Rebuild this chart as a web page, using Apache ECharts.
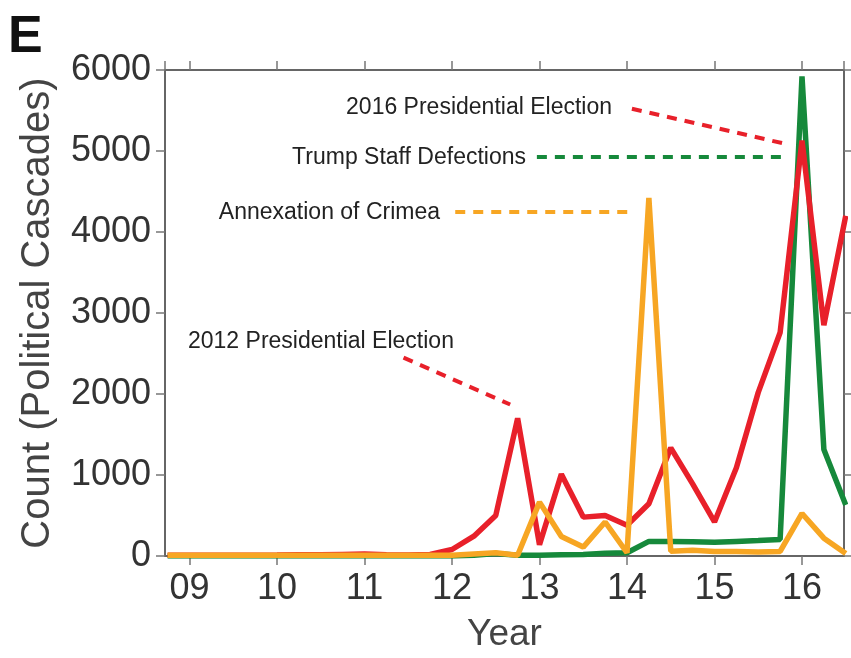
<!DOCTYPE html>
<html>
<head>
<meta charset="utf-8">
<script src="https://cdn.jsdelivr.net/npm/echarts@6/dist/echarts.min.js"></script>
<style>
html,body{margin:0;padding:0;background:#fff;}
#main{width:851px;height:658px;}
</style>
</head>
<body>
<div id="main"></div>
<script>
// Quarterly positions (year, two-digit) and counts
const quarters = [8.75, 9.0, 9.25, 9.5, 9.75, 10.0, 10.25, 10.5, 10.75, 11.0, 11.25, 11.5, 11.75,
  12.0, 12.25, 12.5, 12.75, 13.0, 13.25, 13.5, 13.75, 14.0, 14.25, 14.5, 14.75, 15.0, 15.25, 15.5, 15.75,
  16.0, 16.25, 16.5];
const redValues = [10, 10, 10, 10, 10, 12, 15, 15, 20, 25, 15, 12, 20,
  80, 245, 500, 1700, 140, 1010, 480, 500, 380, 645, 1335, 890, 420, 1090, 2020, 2760,
  5130, 2850, 4200];
const orangeValues = [8, 8, 8, 8, 8, 8, 8, 8, 8, 8, 8, 8, 8,
  10, 25, 40, 10, 665, 240, 110, 420, 40, 4420, 60, 70, 57, 55, 50, 57,
  525, 220, 30];
const greenValues = [0, 0, 0, 0, 0, 0, 0, 0, 0, 0, 0, 0, 0,
  0, 10, 30, 10, 10, 15, 20, 35, 40, 180, 180, 175, 170, 180, 190, 205,
  5920, 1315, 630];
const xTickLabels = {9:'09',10:'10',11:'11',12:'12',13:'13',14:'14',15:'15',16:'16'};
const yTicks = [0, 1000, 2000, 3000, 4000, 5000, 6000];

// Annotation leader lines (data space) and texts
const annRed2016 = [[14.056, 5522], [15.816, 5087]];
const annGreen = [[12.97, 4935], [15.77, 4935]];
const annOrange = [[12.037, 4247], [14.09, 4247]];
const annRed2012 = [[11.446, 2450], [12.665, 1870]];

const RED = '#e8202a', GREEN = '#16893b', ORANGE = '#f7a623';
const pairs = (vals) => quarters.map((q, i) => [q, vals[i]]);
const dash = (color) => ({color: color, width: 4, type: [10, 8]});

const axisLineStyle = {color: '#666', width: 2};
const tickStyle = {show: true, inside: false, length: 9, lineStyle: {color: '#777', width: 1.5}};
const FONT = "'Liberation Sans', Arial, Helvetica, sans-serif";

const chart = echarts.init(document.getElementById('main'));
chart.setOption({
  backgroundColor: '#fff',
  animation: false,
  grid: {left: 165, right: 7, top: 70, bottom: 95, containLabel: false},
  xAxis: [{
    type: 'value', min: 8.72, max: 16.48, minInterval: 1, maxInterval: 1,
    axisLine: {show: true, onZero: false, lineStyle: axisLineStyle},
    axisTick: tickStyle,
    splitLine: {show: false},
    axisLabel: {
      showMinLabel: false, showMaxLabel: false,
      fontSize: 36, color: '#333', fontFamily: FONT, margin: 15,
      formatter: (v) => xTickLabels[Math.round(v)] || ''
    },
    name: 'Year', nameLocation: 'middle', nameGap: 60,
    nameTextStyle: {fontSize: 37, color: '#444', fontFamily: FONT}
  }, {
    type: 'value', position: 'top', min: 8.72, max: 16.48, minInterval: 1, maxInterval: 1,
    axisLine: {show: true, onZero: false, lineStyle: axisLineStyle},
    axisTick: tickStyle, axisLabel: {show: false}, splitLine: {show: false}
  }],
  yAxis: [{
    type: 'value', min: yTicks[0], max: yTicks[yTicks.length - 1], interval: 1000,
    axisLine: {show: true, onZero: false, lineStyle: axisLineStyle},
    axisTick: tickStyle, splitLine: {show: false},
    axisLabel: {fontSize: 36, color: '#333', fontFamily: FONT, margin: 14, formatter: (v) => String(v)},
    name: 'Count (Political Cascades)', nameLocation: 'middle', nameGap: 107, nameRotate: 90,
    nameTextStyle: {fontSize: 40, color: '#444', fontFamily: FONT}
  }, {
    type: 'value', position: 'right', min: 0, max: 6000, interval: 1000,
    axisLine: {show: true, onZero: false, lineStyle: axisLineStyle},
    axisTick: tickStyle, axisLabel: {show: false}, splitLine: {show: false}
  }],
  series: [{
    name: 'Trump', type: 'line', data: pairs(greenValues), showSymbol: false, clip: true,
    lineStyle: {color: GREEN, width: 5.5}, itemStyle: {color: GREEN},
    markLine: {silent: true, symbol: ['none', 'none'], label: {show: false}, lineStyle: dash(GREEN),
      data: [[{coord: annGreen[0]}, {coord: annGreen[1]}]]}
  }, {
    name: 'Elections', type: 'line', data: pairs(redValues), showSymbol: false, clip: true,
    lineStyle: {color: RED, width: 5.5}, itemStyle: {color: RED},
    markLine: {silent: true, symbol: ['none', 'none'], label: {show: false}, lineStyle: dash(RED),
      data: [[{coord: annRed2016[0]}, {coord: annRed2016[1]}], [{coord: annRed2012[0]}, {coord: annRed2012[1]}]]}
  }, {
    name: 'Crimea', type: 'line', data: pairs(orangeValues), showSymbol: false, clip: true,
    lineStyle: {color: ORANGE, width: 5.5}, itemStyle: {color: ORANGE},
    markLine: {silent: true, symbol: ['none', 'none'], label: {show: false}, lineStyle: dash(ORANGE),
      data: [[{coord: annOrange[0]}, {coord: annOrange[1]}]]}
  }],
  graphic: [
    {type: 'text', left: 8, top: 12, style: {text: 'E', font: "bold 52px 'Liberation Sans', Arial, sans-serif", fill: '#111'}},
    {type: 'text', x: 612, y: 108, style: {text: '2016 Presidential Election', font: "23px 'Liberation Sans', Arial, sans-serif", fill: '#222', align: 'right', verticalAlign: 'middle'}},
    {type: 'text', x: 526, y: 158, style: {text: 'Trump Staff Defections', font: "23px 'Liberation Sans', Arial, sans-serif", fill: '#222', align: 'right', verticalAlign: 'middle'}},
    {type: 'text', x: 440, y: 213, style: {text: 'Annexation of Crimea', font: "23px 'Liberation Sans', Arial, sans-serif", fill: '#222', align: 'right', verticalAlign: 'middle'}},
    {type: 'text', x: 188, y: 342, style: {text: '2012 Presidential Election', font: "23px 'Liberation Sans', Arial, sans-serif", fill: '#222', align: 'left', verticalAlign: 'middle'}}
  ]
});
</script>
</body>
</html>
